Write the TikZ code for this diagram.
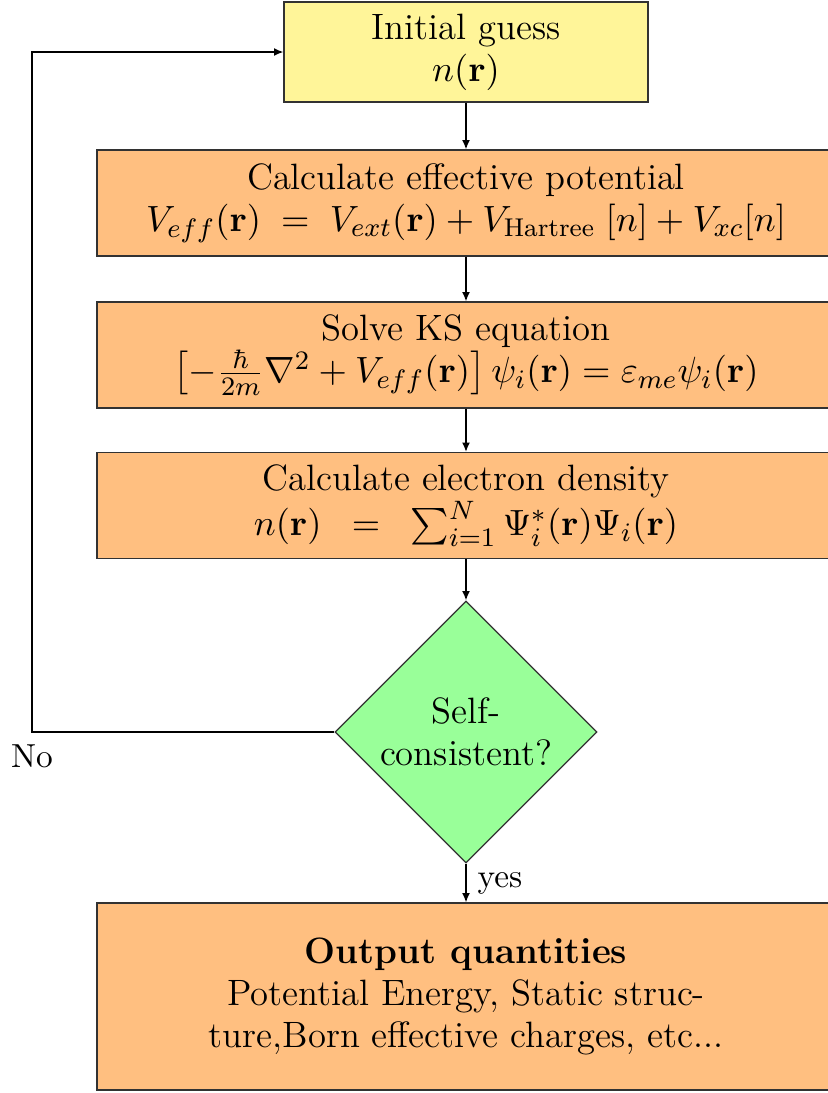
\documentclass[tikz,border=0pt]{standalone}
\usepackage{amsmath}
\usetikzlibrary{shapes.geometric,arrows.meta}

\definecolor{guessyellow}{RGB}{255,245,153}
\definecolor{steporange}{RGB}{255,191,128}
\definecolor{testgreen}{RGB}{153,255,153}
\definecolor{boxedge}{RGB}{50,50,50}

\tikzset{every picture/.style={line width=0.4pt}}
\tikzset{
  boxfont/.style={font=\fontsize{11}{12.6}\selectfont},
  stepbox/.style={draw=boxedge, fill=steporange, align=center, inner sep=0pt,
    minimum width=221.4pt, minimum height=31.8pt, boxfont},
  flowarrow/.style={-{Latex[length=2.8pt,width=2.4pt]}}
}

\begin{document}
\begin{tikzpicture}[x=0.3pt,y=0.3pt,yscale=-1,xscale=1]
\useasboundingbox (0,0) rectangle (827,1093);

%Shape: Rectangle [id:guess]
\node [draw=boxedge, fill=guessyellow, align=center, inner sep=0pt,
  minimum width=109.2pt, minimum height=30pt, boxfont] (guess) at (466,52)
  {Initial guess\\$n(\mathbf{r})$};
%Shape: Rectangle [id:veff]
\node [stepbox] (veff) at (466,203)
  {Calculate effective potential\\
   $V_{eff}(\mathbf{r})\;=\;V_{ext}(\mathbf{r})+V_{\text{Hartree}}\;[n]+V_{xc}[n]$};
%Shape: Rectangle [id:ks]
\node [stepbox] (ks) at (466,355)
  {Solve KS equation\\
   $\left[-\frac{\hbar}{2m}\nabla^2+V_{eff}(\mathbf{r})\right]\psi_i(\mathbf{r})=\varepsilon_{me}\psi_i(\mathbf{r})$};
%Shape: Rectangle [id:dens]
\node [stepbox] (dens) at (466,505.5)
  {Calculate electron density\\
   $n(\mathbf{r})\;\;=\;\;\sum_{i=1}^{N}\Psi_i^{*}(\mathbf{r})\Psi_i(\mathbf{r})$};
%Shape: Diamond [id:scf]
\node [diamond, draw=boxedge, fill=testgreen, align=center, inner sep=0pt,
  minimum width=78.6pt, minimum height=78.6pt, boxfont] (scf) at (466,732)
  {Self-\\consistent?};
%Shape: Rectangle [id:out]
\node [stepbox, minimum height=56.1pt] (out) at (466,996.5)
  {\textbf{Output quantities}\\
   Potential Energy, Static struc-\\
   ture,Born effective charges, etc...};

%Straight Lines [id:arrows]
\draw [flowarrow] (guess) -- (veff);
\draw [flowarrow] (veff) -- (ks);
\draw [flowarrow] (ks) -- (dens);
\draw [flowarrow] (dens) -- (scf);
\draw [flowarrow] (scf) -- node [right, inner sep=3.3pt] {yes} (out);
%Straight Lines [id:loop]
\coordinate (loopbot) at (32,732);
\coordinate (looptop) at (32,52);
\draw [flowarrow] (scf.west) -- (loopbot) -- (looptop) -- (guess.west);

% Text Node
\node [below, inner sep=3.5pt] at (loopbot) {No};

\end{tikzpicture}
\end{document}
